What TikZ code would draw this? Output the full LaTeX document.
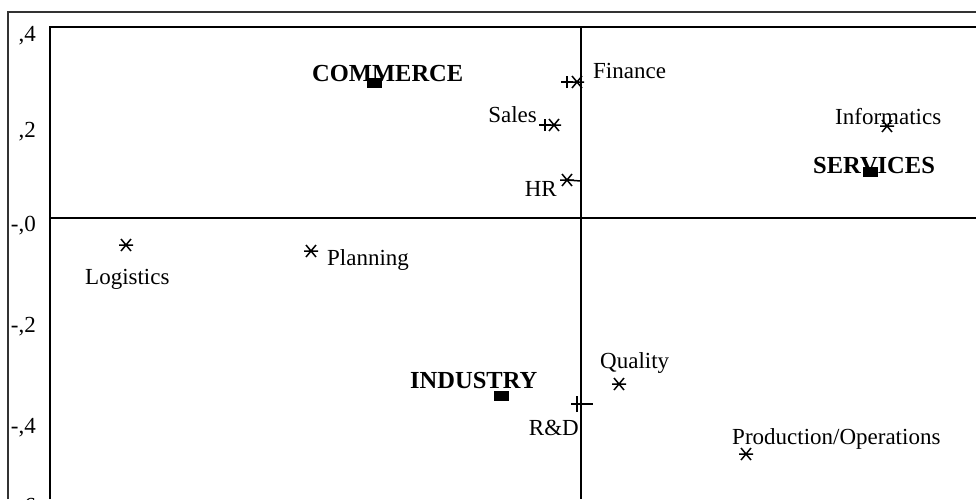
\documentclass[tikz,border=0pt]{standalone}
\usepackage{fontspec}
\setmainfont{Liberation Serif}
\newcommand\astmk[1]{\draw[mk] ([xshift=-7pt]#1) -- ([xshift=7pt]#1) ([shift={(-5,-6)}]#1) -- ([shift={(5,6)}]#1) ([shift={(-5,6)}]#1) -- ([shift={(5,-6)}]#1);}
\newcommand\plusmk[1]{\draw[mk] ([xshift=-6pt]#1) -- ([xshift=6pt]#1) ([yshift=-6pt]#1) -- ([yshift=6pt]#1);}
\begin{document}
\begin{tikzpicture}[x=1pt,y=-1pt,
  lab/.style={inner sep=0, font=\fontsize{23}{26}\selectfont},
  blab/.style={inner sep=0, font=\fontsize{24.5}{28}\selectfont\bfseries},
  ticklab/.style={inner sep=0, anchor=base east, font=\fontsize{23}{26}\selectfont},
  sq/.style={fill=black, draw=none, inner sep=0, minimum width=15pt, minimum height=10pt},
  mk/.style={line width=1.5pt, black},
  axis/.style={line width=1.8pt, black},
  ]
\useasboundingbox (0,0) rectangle (976,499);
% frames
\coordinate (ofb) at (8,499); \coordinate (oftl) at (8,12); \coordinate (oftr) at (976,12);
\draw[line width=1.2pt, black!80] (ofb) -- (oftl) -- (oftr);
\coordinate (ifb) at (50,499); \coordinate (iftl) at (50,27); \coordinate (iftr) at (976,27);
\draw[line width=2.2pt] (ifb) -- (iftl) -- (iftr);
% axes
\coordinate (ax0) at (50,218); \coordinate (ax1) at (976,218);
\coordinate (ay0) at (581,27); \coordinate (ay1) at (581,499);
\draw[axis] (ax0) -- (ax1);
\draw[axis] (ay0) -- (ay1);
% tick labels
\node[ticklab] (t4) at (36,41) {,4};
\node[ticklab] (t2) at (36,137) {,2};
\node[ticklab] (t0) at (36,231) {-,0};
\node[ticklab] (tm2) at (36,332) {-,2};
\node[ticklab] (tm4) at (36,433) {-,4};
\node[ticklab] (tm6) at (36,513) {-,6};
% group centroids
\node[sq] (scom) at (374,83) {};
\node[blab, anchor=base west] (lcom) at (312,81) {COMMERCE};
\node[sq] (sser) at (870,172) {};
\node[blab, anchor=base west] (lser) at (813,173) {SERVICES};
\node[sq] (sind) at (501,396) {};
\node[blab, anchor=base west] (lind) at (410,388) {INDUSTRY};
% functions
\coordinate (mfinp) at (567,82); \coordinate (mfina) at (577,82);
\plusmk{mfinp} \astmk{mfina}
\node[lab, anchor=base west] (lfin) at (593,78) {Finance};
\coordinate (msalp) at (545,125); \coordinate (msala) at (554,125);
\plusmk{msalp} \astmk{msala}
\node[lab, anchor=base east] (lsal) at (537,122) {Sales};
\coordinate (mhr) at (567,180); \coordinate (mhrt) at (581,181);
\astmk{mhr} \draw[mk] (mhr) -- (mhrt);
\node[lab, anchor=base east] (lhr) at (557,196) {HR};
\coordinate (minf) at (887,126);
\astmk{minf}
\node[lab, anchor=base west] (linf) at (835,124) {Informatics};
\coordinate (mlog) at (126,245);
\astmk{mlog}
\node[lab, anchor=base west] (llog) at (85,284) {Logistics};
\coordinate (mpla) at (311,251);
\astmk{mpla}
\node[lab, anchor=base west] (lpla) at (327,265) {Planning};
\coordinate (mqua) at (619,384);
\astmk{mqua}
\node[lab, anchor=base west] (lqua) at (600,368) {Quality};
\coordinate (mrd) at (582,404); \coordinate (mrdl) at (577,404);
\draw[mk] ([xshift=-11pt]mrd) -- ([xshift=11pt]mrd) ([yshift=-8pt]mrdl) -- ([yshift=8pt]mrdl);
\node[lab, anchor=base east] (lrd) at (579,435) {R\&D};
\coordinate (mpro) at (746,454);
\astmk{mpro}
\node[lab, anchor=base west] (lpro) at (732,444) {Production/Operations};
\end{tikzpicture}
\end{document}
